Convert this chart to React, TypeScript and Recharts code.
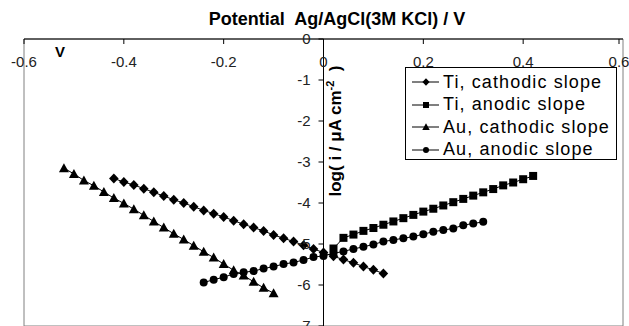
import React from 'react';
import { ScatterChart, Scatter, XAxis, YAxis, ReferenceLine, ReferenceArea, Legend } from 'recharts';

const FONT = 'Arial, "Liberation Sans", sans-serif';

const xTicks = [-0.6, -0.4, -0.2, 0, 0.2, 0.4, 0.6];
const yTicks = [0, -1, -2, -3, -4, -5, -6, -7];

// potential (V) vs log(i / uA cm-2)
const tiCathodicV = [
  -0.42, -0.4, -0.38, -0.36, -0.34, -0.32, -0.3, -0.28, -0.26, -0.24, -0.22, -0.2, -0.18, -0.16,
  -0.14, -0.12, -0.1, -0.08, -0.06, -0.04, -0.02, 0, 0.02, 0.04, 0.06, 0.08, 0.1, 0.12,
];
const tiCathodicLog = [
  -3.4, -3.49, -3.56, -3.65, -3.74, -3.83, -3.92, -4.0, -4.09, -4.18, -4.26, -4.34, -4.43, -4.52,
  -4.6, -4.68, -4.78, -4.86, -4.94, -5.03, -5.12, -5.21, -5.3, -5.38, -5.46, -5.55, -5.63, -5.72,
];

const tiAnodicV = [
  0.02, 0.04, 0.06, 0.08, 0.1, 0.12, 0.14, 0.16, 0.18, 0.2, 0.22, 0.24, 0.26, 0.28, 0.3, 0.32,
  0.34, 0.36, 0.38, 0.4, 0.42,
];
const tiAnodicLog = [
  -5.11, -4.85, -4.77, -4.68, -4.61, -4.53, -4.45, -4.37, -4.29, -4.21, -4.14, -4.06, -3.98, -3.9,
  -3.82, -3.74, -3.66, -3.57, -3.5, -3.42, -3.34,
];

const auCathodicV = [
  -0.52, -0.5, -0.48, -0.46, -0.44, -0.42, -0.4, -0.38, -0.36, -0.34, -0.32, -0.3, -0.28, -0.26,
  -0.24, -0.22, -0.2, -0.18, -0.16, -0.14, -0.12, -0.1,
];
const auCathodicLog = [
  -3.15, -3.29, -3.45, -3.58, -3.73, -3.88, -4.01, -4.15, -4.3, -4.45, -4.6, -4.75, -4.89, -5.04,
  -5.19, -5.33, -5.49, -5.64, -5.77, -5.92, -6.07, -6.2,
];

const auAnodicV = [
  -0.24, -0.22, -0.2, -0.18, -0.16, -0.14, -0.12, -0.1, -0.08, -0.06, -0.04, -0.02, 0, 0.02, 0.04,
  0.06, 0.08, 0.1, 0.12, 0.14, 0.16, 0.18, 0.2, 0.22, 0.24, 0.26, 0.28, 0.3, 0.32,
];
const auAnodicLog = [
  -5.94, -5.87, -5.81, -5.73, -5.69, -5.66, -5.6, -5.55, -5.49, -5.45, -5.39, -5.32, -5.29, -5.23,
  -5.18, -5.12, -5.07, -5.01, -4.94, -4.9, -4.86, -4.82, -4.76, -4.7, -4.66, -4.62, -4.54, -4.5,
  -4.46,
];

const toPoints = (v: number[], l: number[]) => v.map((x, i) => ({ x, y: l[i] }));

type MarkerKind = 'diamond' | 'square' | 'triangle' | 'circle';

const series: { name: string; kind: MarkerKind; data: { x: number; y: number }[] }[] = [
  { name: 'Ti, cathodic slope', kind: 'diamond', data: toPoints(tiCathodicV, tiCathodicLog) },
  { name: 'Ti, anodic slope', kind: 'square', data: toPoints(tiAnodicV, tiAnodicLog) },
  { name: 'Au, cathodic slope', kind: 'triangle', data: toPoints(auCathodicV, auCathodicLog) },
  { name: 'Au, anodic slope', kind: 'circle', data: toPoints(auAnodicV, auAnodicLog) },
];

const Marker = ({ kind, cx, cy, s = 1 }: { kind: MarkerKind; cx: number; cy: number; s?: number }) => {
  if (kind === 'diamond')
    return (
      <polygon
        points={`${cx},${cy - 5 * s} ${cx + 4.8 * s},${cy} ${cx},${cy + 5 * s} ${cx - 4.8 * s},${cy}`}
        fill="#000"
      />
    );
  if (kind === 'square') return <rect x={cx - 4 * s} y={cy - 4 * s} width={8 * s} height={8 * s} fill="#000" />;
  if (kind === 'triangle')
    return (
      <polygon
        points={`${cx},${cy - 5 * s} ${cx + 5 * s},${cy + 4 * s} ${cx - 5 * s},${cy + 4 * s}`}
        fill="#000"
      />
    );
  return <circle cx={cx} cy={cy} r={4 * s} fill="#000" />;
};

const XTick = (props: any) => {
  const { x, y, payload } = props;
  return (
    <g>
      <line x1={x} y1={y} x2={x} y2={y + 5} stroke="#000" />
      <text x={x} y={y + 28} textAnchor="middle" fontSize={15} fontFamily={FONT} fill="#222">
        {String(payload.value)}
      </text>
    </g>
  );
};

const LegendBox = (props: any) => {
  const items = [...(props.payload || [])].sort(
    (a: any, b: any) =>
      series.findIndex((d) => d.name === a.value) - series.findIndex((d) => d.name === b.value),
  );
  return (
    <div
      style={{
        border: '1px solid #000',
        background: '#fff',
        width: 205,
        height: 88,
        padding: '3px 0 0 5px',
        boxSizing: 'content-box',
        fontFamily: FONT,
        fontSize: 18,
        letterSpacing: 1.1,
        color: '#000',
      }}
    >
      {items.map((entry: any) => {
        const s = series.find((d) => d.name === entry.value);
        return (
          <div key={entry.value} style={{ height: 22.5, display: 'flex', alignItems: 'center', whiteSpace: 'nowrap' }}>
            <svg width={30} height={12} style={{ marginRight: 2 }}>
              <line x1={1} y1={6} x2={28} y2={6} stroke="#000" />
              <Marker kind={s ? s.kind : 'circle'} cx={15} cy={6} s={0.75} />
            </svg>
            <span>{entry.value}</span>
          </div>
        );
      })}
    </div>
  );
};

export default function App() {
  return (
    <div style={{ position: 'absolute', left: 0, top: 0, width: 629, height: 326, background: '#fff' }}>
      <ScatterChart width={629} height={326} margin={{ top: 9, right: 6, bottom: 0, left: 24 }}>
        <XAxis
          type="number"
          dataKey="x"
          orientation="top"
          height={30}
          domain={[-0.6, 0.6]}
          allowDataOverflow
          ticks={xTicks}
          tickLine={false}
          tickSize={0}
          tickMargin={0}
          axisLine={{ stroke: '#000' }}
          tick={<XTick />}
        />
        <YAxis type="number" dataKey="y" hide domain={[-7, 0]} allowDataOverflow />
        <ReferenceArea x1={-0.6} x2={0.6} y1={-7} y2={0} fill="none" stroke="#808080" />
        <ReferenceLine x={0} stroke="#000" />
        {yTicks.map((v) => (
          <ReferenceLine
            key={v}
            segment={[
              { x: -0.01, y: v },
              { x: 0, y: v },
            ]}
            stroke="#000"
            label={{ value: String(v), position: 'left', offset: 8, fontSize: 15, fontFamily: FONT, fill: '#222' }}
          />
        ))}
        <Legend
          layout="vertical"
          align="center"
          verticalAlign="middle"
          wrapperStyle={{ left: 405, top: 67, width: 207, height: 90 }}
          content={<LegendBox />}
        />
        {series.map((s) => (
          <Scatter
            key={s.name}
            name={s.name}
            data={s.data}
            fill="#000"
            line={{ stroke: '#000', strokeWidth: 1 }}
            lineType="joint"
            isAnimationActive={false}
            shape={(p: any) => <Marker kind={s.kind} cx={p.cx} cy={p.cy} />}
          />
        ))}
      </ScatterChart>
      <svg
        width={629}
        height={326}
        style={{ position: 'absolute', left: 0, top: 0, pointerEvents: 'none' }}
        fontFamily={FONT}
      >
        <text x={337} y={25} textAnchor="middle" fontSize={18} fontWeight="bold" fill="#000">
          Potential&#160; Ag/AgCl(3M KCl) / V
        </text>
        <text x={55} y={57} fontSize={15} fontWeight="bold" fill="#000">
          V
        </text>
        <text
          transform="translate(341,131) rotate(-90)"
          textAnchor="middle"
          fontSize={17}
          fontWeight="bold"
          fill="#000"
        >
          log( i / μA cm
          <tspan dy={-7} fontSize={11}>
            -2
          </tspan>
          <tspan dy={7}>&#160; )</tspan>
        </text>
      </svg>
    </div>
  );
}
